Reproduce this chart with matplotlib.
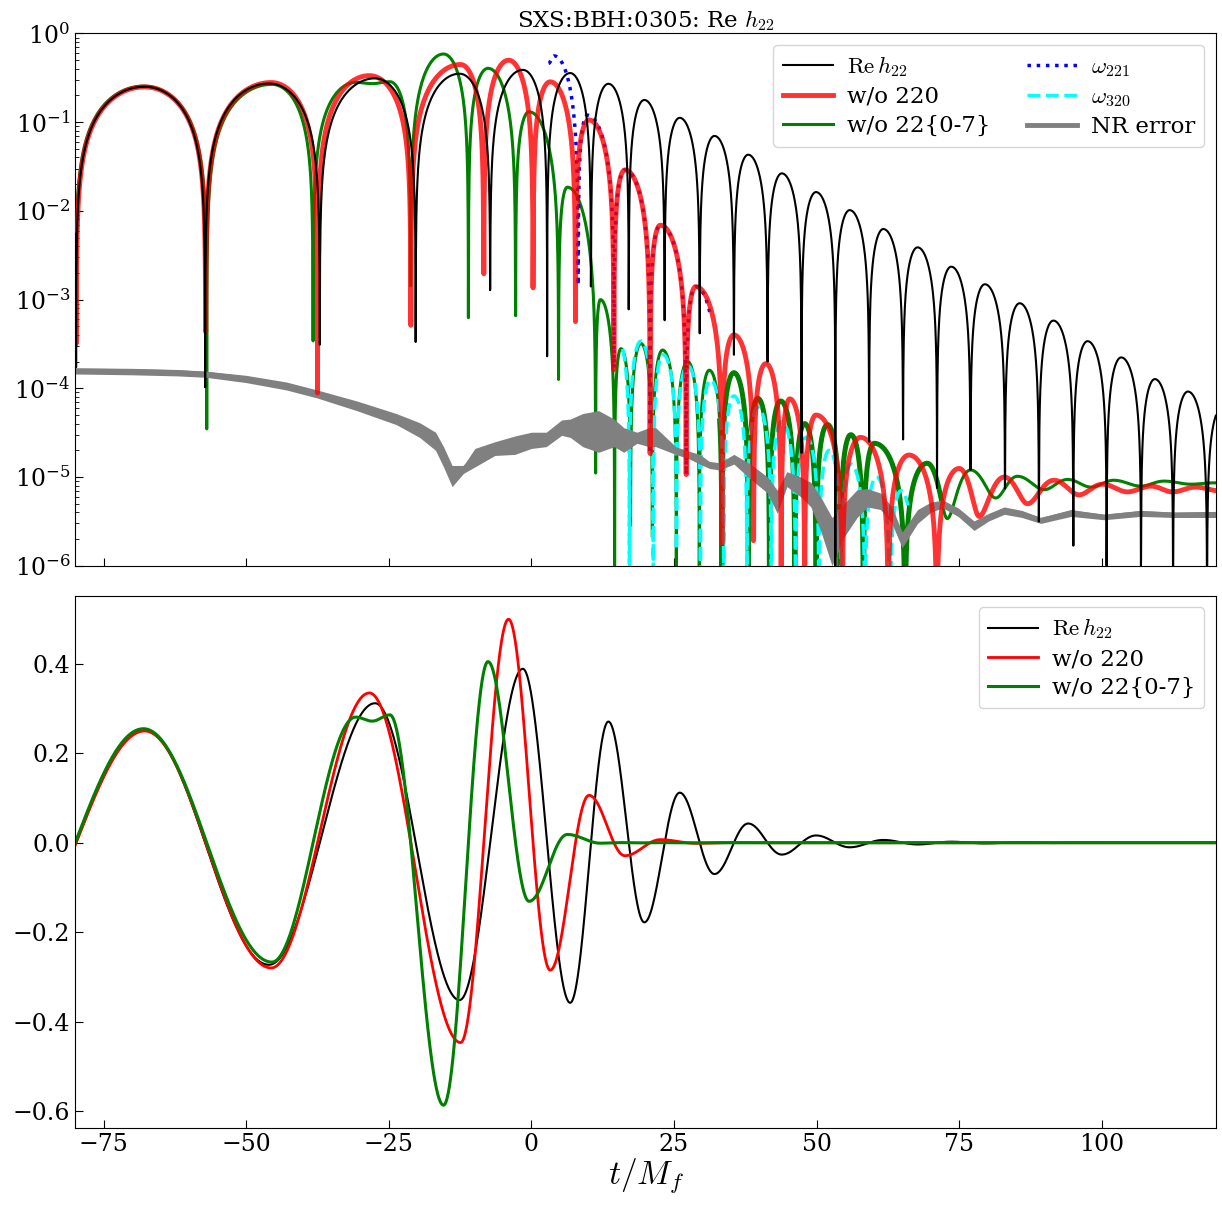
import numpy as np
import matplotlib.pyplot as plt

plt.rcParams['font.family'] = ['DejaVu Serif']
plt.rcParams['mathtext.fontset'] = 'cm'
plt.rcParams['font.size'] = 16
plt.rcParams['xtick.direction'] = 'in'
plt.rcParams['ytick.direction'] = 'in'

# extrema (time, signed value) of each curve
t_nr = [-91.5, -67.8, -46.0, -27.4, -12.6, -1.5, 6.8, 13.5, 19.8, 26.0, 32.1, 38.0,
        43.9, 49.9, 55.8, 61.7, 67.7, 73.6, 79.5, 85.6, 91.5, 97.5, 103.4, 109.3,
        115.1, 121.0]
h_nr = [-0.24, 0.251, -0.273, 0.312, -0.352, 0.389, -0.358, 0.271, -0.178, 0.112,
        -0.070, 0.043, -0.0265, 0.0163, -0.0102, 0.00625, -0.00388, 0.00235,
        -0.00149, 9.1e-4, -5.8e-4, 3.4e-4, -2.23e-4, 1.27e-4, -9.2e-5, 6.0e-5]

t_no220 = [-91.5, -67.8, -45.6, -28.4, -12.4, -4.0, 3.3, 10.1, 16.4, 22.6, 28.8, 35.5,
           41.1, 45.3, 49.9, 57.7, 66.2, 75.0, 78.5, 82.9, 87.0, 91.6, 96.0, 100.1,
           104.5, 108.6, 112.4, 116.5, 120.5]
h_no220 = [-0.24, 0.25, -0.280, 0.335, -0.447, 0.500, -0.285, 0.106, -0.029, 0.0069,
           -0.0014, 4.0e-4, -1.9e-4, 7.6e-5, -5.0e-5, 2.8e-5, -1.77e-5, 1.25e-5,
           3.6e-6, 1.0e-5, 5.0e-6, 9.2e-6, 6.3e-6, 8.3e-6, 6.8e-6, 7.9e-6, 6.8e-6,
           7.7e-6, 7.0e-6]

t_no22x = [-91.5, -68.0, -45.5, -30.8, -27.9, -24.8, -15.4, -7.6, -0.4, 6.3, 12.1,
           15.7, 19.2, 23.0, 27.4, 31.2, 35.5, 39.7, 43.7, 47.9, 51.9, 56.0, 60.1,
           69.4, 72.9, 77.0, 81.4, 85.2, 89.9, 94.0, 98.1, 102.1, 106.8, 110.9,
           115.6, 119.7, 124.0]
h_no22x = [-0.24, 0.255, -0.267, 0.281, 0.272, 0.286, -0.587, 0.405, -0.131, 0.0185,
           -0.001, 2.8e-4, -3.2e-4, 2.7e-4, -2.0e-4, 1.6e-4, -1.5e-4, 7.7e-5, -7.2e-5,
           4.0e-5, -3.9e-5, 3.0e-5, -2.4e-5, 1.43e-5, 3.4e-6, 1.2e-5, 5.8e-6, 1.02e-5,
           7.2e-6, 9.4e-6, 7.7e-6, 9.2e-6, 7.9e-6, 9.0e-6, 8.3e-6, 8.6e-6, 8.3e-6]
thick_no22x = (33.0, 72.0)   # stretch where the green trace looks like a band

t_221 = [3.0, 4.0, 9.8, 16.4, 22.6, 28.8, 34.5]
h_221 = [0.46, 0.558, -0.12, 0.029, -0.0069, 0.0014, -3.0e-4]
span_221 = (3.0, 31.5)

t_320 = [15.1, 19.2, 23.1, 27.4, 31.4, 35.5, 39.7, 43.9, 48.2, 52.2, 56.0, 60.5, 64.8, 69.0]
h_320 = [3.6e-4, -3.4e-4, 2.4e-4, -1.8e-4, 1.24e-4, -8.2e-5, 6.1e-5, -4.2e-5, 2.8e-5,
         -2.0e-5, 1.4e-5, -1.0e-5, 7.0e-6, -5.0e-6]
span_320 = (16.0, 66.0)

# NR error band (lower / upper edge)
t_err = [-80, -70, -62, -57, -50, -43, -37.6, -30.6, -23.7, -19.6, -16.8, -15.4,
         -13.9, -11.9, -9.9, -6.4, -2.9, 0, 2.6, 5.3, 6.8, 9, 11.8, 14.5, 16.2, 18.5,
         20.6, 21.8, 25.3, 27.7, 29.5, 31.2, 33.0, 35.5, 38.4, 41.4, 43.1, 44.8, 47.2,
         49.0, 50.7, 52.7, 54.8, 57.1, 58.9, 61.2, 63.2, 65.0, 67.7, 70.0, 72.1, 74.8,
         77.6, 80.2, 82.9, 86.0, 89.3, 94.6, 100.4, 106.8, 112.7, 120]
err_lo = [1.45e-4, 1.42e-4, 1.38e-4, 1.33e-4, 1.16e-4, 9.6e-5, 7.8e-5, 5.6e-5, 3.9e-5,
          2.8e-5, 2.0e-5, 1.3e-5, 7.8e-6, 1.1e-5, 1.3e-5, 1.75e-5, 1.8e-5, 2.1e-5,
          2.2e-5, 2.95e-5, 2.8e-5, 2.2e-5, 1.9e-5, 2.2e-5, 1.9e-5, 2.4e-5, 2.2e-5,
          2.2e-5, 1.8e-5, 1.6e-5, 1.4e-5, 1.25e-5, 1.2e-5, 1.4e-5, 9.5e-6, 6.6e-6,
          3.9e-6, 7.8e-6, 6.0e-6, 4.6e-6, 2.5e-6, 1.0e-6, 2.1e-6, 3.5e-6, 4.6e-6,
          4.3e-6, 3.0e-6, 1.6e-6, 3.0e-6, 4.0e-6, 4.5e-6, 3.6e-6, 2.5e-6, 3.2e-6,
          3.8e-6, 3.5e-6, 3.0e-6, 3.6e-6, 3.3e-6, 3.6e-6, 3.5e-6, 3.5e-6]
err_hi = [1.70e-4, 1.68e-4, 1.63e-4, 1.56e-4, 1.40e-4, 1.18e-4, 9.6e-5, 7.2e-5, 5.2e-5,
          4.1e-5, 3.2e-5, 2.2e-5, 1.35e-5, 1.35e-5, 2.1e-5, 2.5e-5, 2.9e-5, 3.2e-5,
          3.2e-5, 4.4e-5, 4.5e-5, 5.2e-5, 5.6e-5, 4.5e-5, 3.6e-5, 3.2e-5, 3.6e-5,
          3.6e-5, 2.2e-5, 1.95e-5, 1.8e-5, 1.5e-5, 1.45e-5, 1.8e-5, 1.4e-5, 1.0e-5,
          7.1e-6, 1.15e-5, 1.0e-5, 8.7e-6, 6.0e-6, 3.5e-6, 5.0e-6, 7.2e-6, 7.4e-6,
          6.6e-6, 4.6e-6, 2.4e-6, 4.3e-6, 5.2e-6, 5.5e-6, 4.5e-6, 3.2e-6, 3.9e-6,
          4.6e-6, 4.2e-6, 3.5e-6, 4.3e-6, 3.8e-6, 4.2e-6, 4.0e-6, 4.1e-6]


def through_extrema(t_nodes, v_nodes, t):
    # half-cosine between consecutive extrema
    tn, vn = np.asarray(t_nodes), np.asarray(v_nodes)
    i = np.clip(np.searchsorted(tn, t) - 1, 0, len(tn) - 2)
    s = (t - tn[i]) / (tn[i + 1] - tn[i])
    return vn[i] + (vn[i + 1] - vn[i]) * (1 - np.cos(np.pi * s)) / 2


t = np.arange(-80.0, 120.0, 0.025) + 0.0113
nr = through_extrema(t_nr, h_nr, t)
no220 = through_extrema(t_no220, h_no220, t)
no22x = through_extrema(t_no22x, h_no22x, t)
band = (t >= thick_no22x[0]) & (t <= thick_no22x[1])
t221 = t[(t >= span_221[0]) & (t <= span_221[1])]
w221 = through_extrema(t_221, h_221, t221)
t320 = t[(t >= span_320[0]) & (t <= span_320[1])]
w320 = through_extrema(t_320, h_320, t320)

fig = plt.figure(figsize=(12.22, 12.13), dpi=100)
ax1 = fig.add_axes([0.0614, 0.5336, 0.9336, 0.4388])
ax2 = fig.add_axes([0.0614, 0.0701, 0.9336, 0.4386], sharex=ax1)

ax1.plot(t, np.abs(nr), color='black', lw=1.5, zorder=3, label=r'$\mathrm{Re}\,h_{22}$')
ax1.plot(t, np.abs(no220), color='red', alpha=0.8, lw=3.5, zorder=2.6, label='w/o 220')
ax1.plot(t, np.abs(no22x), color='green', lw=2.2, zorder=2, label='w/o 22{0-7}')
ax1.plot(t[band], np.abs(no22x[band]), color='green', lw=3.6, zorder=2)
ax1.plot(t221, np.abs(w221), color='blue', ls=':', lw=2.5, zorder=2.3, label=r'$\omega_{221}$')
ax1.plot(t320, np.abs(w320), color='cyan', ls='--', lw=2.5, zorder=2.2, label=r'$\omega_{320}$')
ax1.fill_between(t_err, err_lo, err_hi, color='gray', lw=0, zorder=2.5)
ax1.plot(t_err, np.sqrt(np.array(err_lo) * np.array(err_hi)), color='gray', lw=3.5,
         zorder=2.5, label='NR error')

ax1.set_yscale('log')
ax1.set_ylim(1e-6, 1)
ax1.set_xlim(-80, 120)
ax1.tick_params(labelbottom=False)
ax1.legend(loc='upper right', ncol=2, fontsize=16.5, handlelength=2.2, columnspacing=1.6,
           labelspacing=0.3, handletextpad=0.6, borderaxespad=0.5)
ax1.set_title(r'SXS:BBH:0305: Re $h_{22}$', fontsize=16.5, pad=4)

ax2.plot(t, nr, color='black', lw=1.5, label=r'$\mathrm{Re}\,h_{22}$')
ax2.plot(t, no220, color='red', lw=2, label='w/o 220')
ax2.plot(t, no22x, color='green', lw=2.2, label='w/o 22{0-7}')
ax2.set_ylim(-0.638, 0.552)
ax2.set_yticks([-0.6, -0.4, -0.2, 0.0, 0.2, 0.4])
ax2.set_xticks([-75, -50, -25, 0, 25, 50, 75, 100])
ax2.legend(loc='upper right', fontsize=16.5, handlelength=2.2, labelspacing=0.3,
           handletextpad=0.6, borderaxespad=0.5)
ax2.set_xlabel(r'$t/M_f$', fontsize=24, labelpad=0)

for ax in (ax1, ax2):
    ax.tick_params(which='major', length=6, labelsize=17)
    ax.tick_params(which='minor', length=3)

fig.savefig('out.png', dpi=100)
